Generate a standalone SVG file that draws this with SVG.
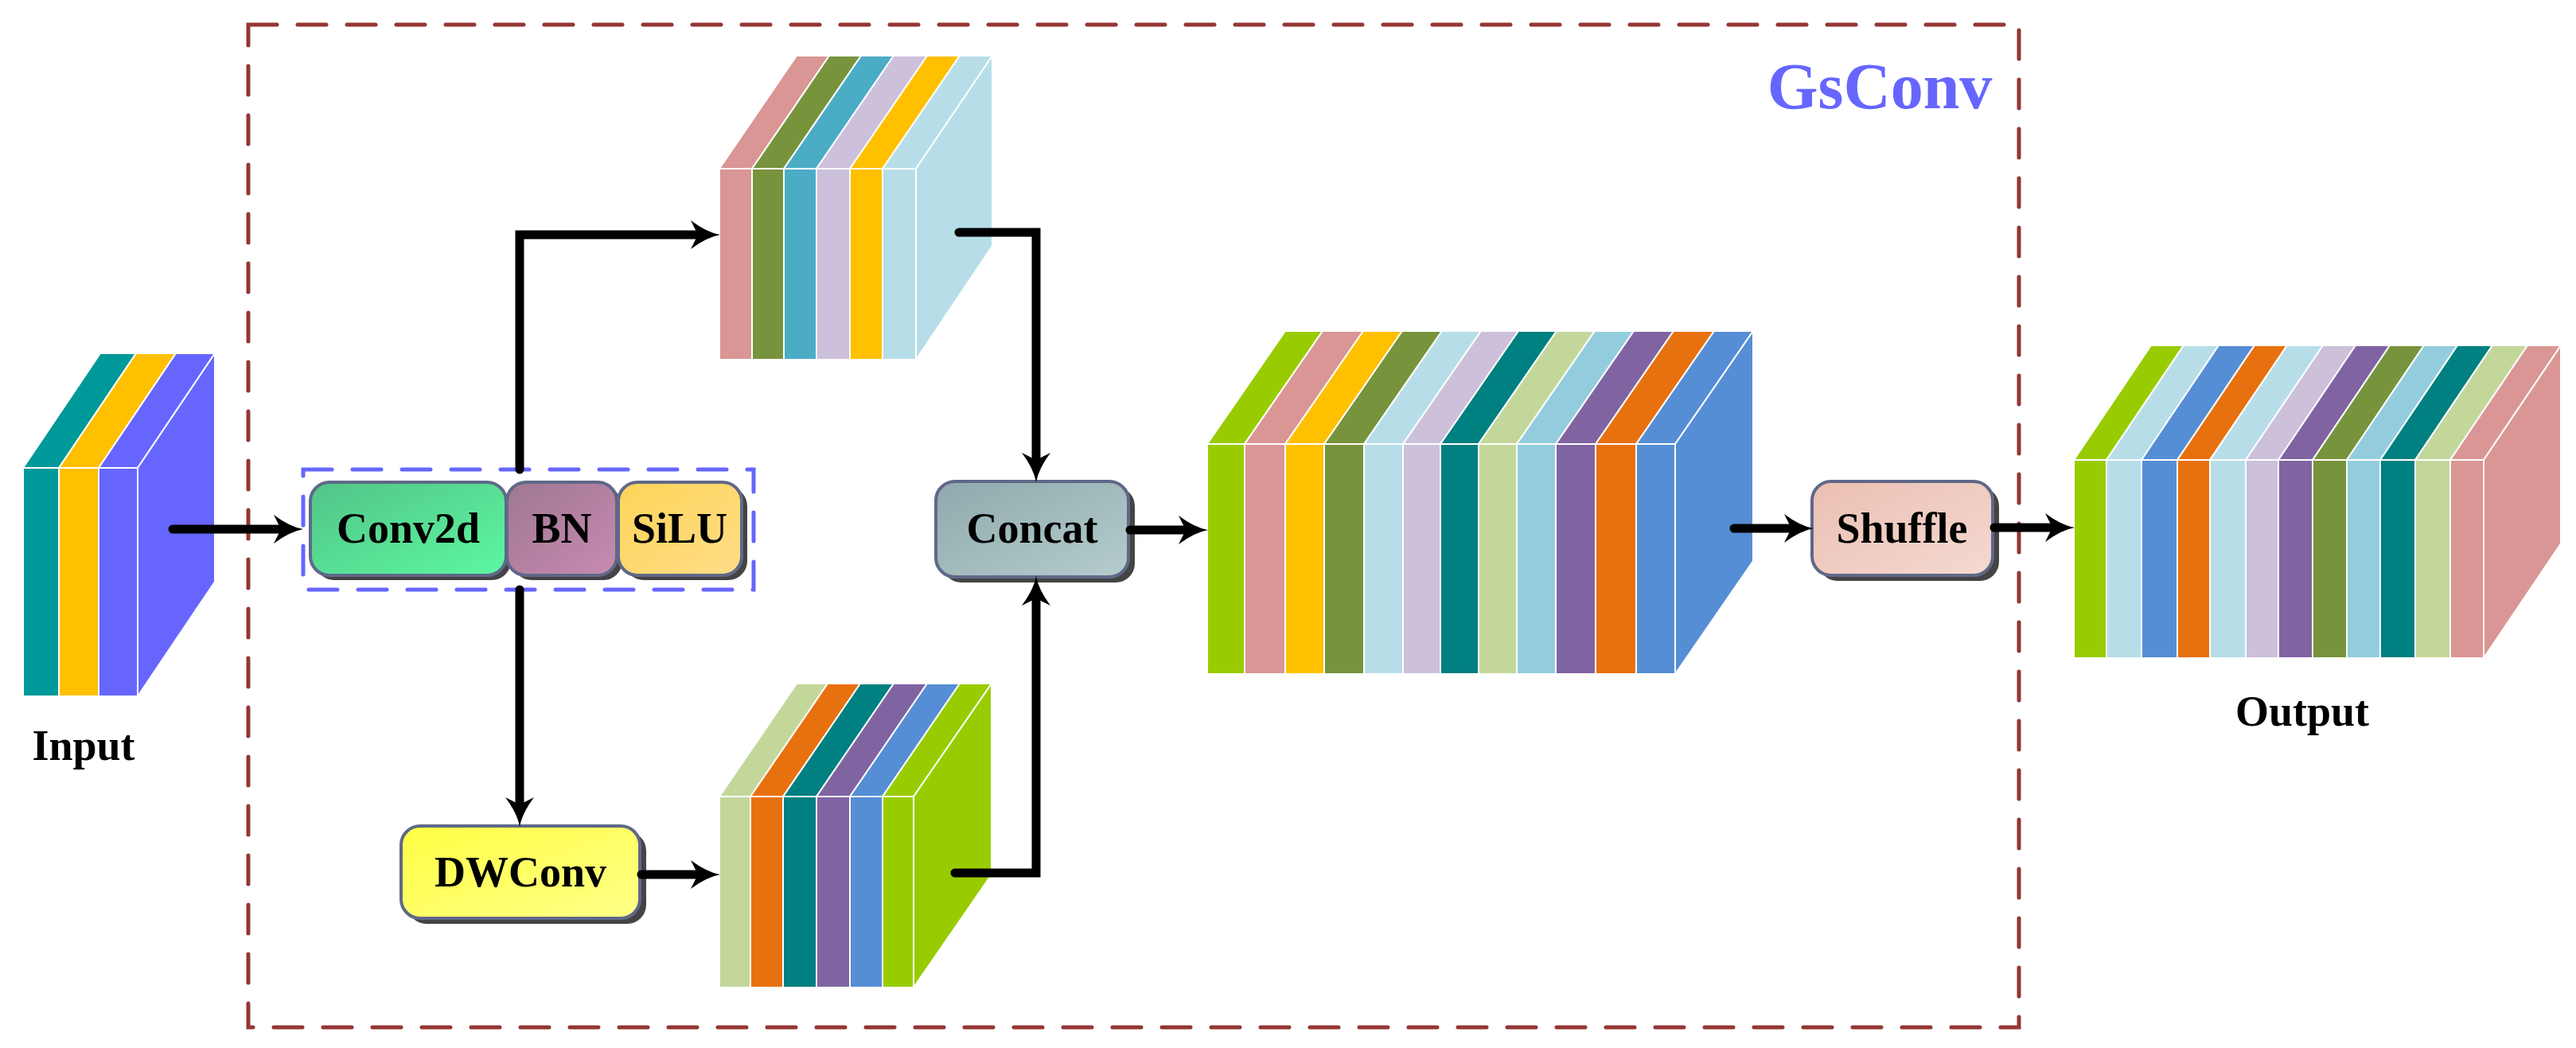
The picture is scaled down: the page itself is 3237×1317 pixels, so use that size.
<svg xmlns="http://www.w3.org/2000/svg" width="3237" height="1317" viewBox="0 0 3237 1317">
<style>
.s{stroke:#fff;stroke-width:2;stroke-linejoin:miter}
.node{stroke:#5F6888;stroke-width:4}
.shadow{fill:#444}
.lbl{font-family:"Liberation Serif","Times New Roman",serif;font-weight:bold;font-size:54px;fill:#000;text-anchor:middle}
.conn{fill:none;stroke:#000;stroke-width:11;stroke-linecap:round;stroke-linejoin:miter;marker-end:url(#ah)}
</style>
<defs>
<marker id="ah" viewBox="0 0 40 40" refX="18" refY="20" markerWidth="40" markerHeight="40" markerUnits="userSpaceOnUse" orient="auto">
<path d="M39,20 Q22,17 2,2 L11,20 L2,38 Q22,23 39,20 Z" fill="#000"/>
</marker>
<linearGradient id="gConv" x1="0" y1="0" x2="1" y2="1"><stop offset="0" stop-color="#52C487"/><stop offset="1" stop-color="#5CF8A1"/></linearGradient>
<linearGradient id="gBN" x1="0" y1="0" x2="1" y2="1"><stop offset="0" stop-color="#9E7890"/><stop offset="1" stop-color="#C88AB2"/></linearGradient>
<linearGradient id="gSiLU" x1="0" y1="0" x2="1" y2="1"><stop offset="0" stop-color="#FDD458"/><stop offset="1" stop-color="#FFDD88"/></linearGradient>
<linearGradient id="gDW" x1="0" y1="0" x2="1" y2="1"><stop offset="0" stop-color="#FFFF44"/><stop offset="1" stop-color="#FFFF88"/></linearGradient>
<linearGradient id="gCat" x1="0" y1="0" x2="1" y2="1"><stop offset="0" stop-color="#8FA9AC"/><stop offset="1" stop-color="#B4CCCD"/></linearGradient>
<linearGradient id="gSh" x1="0" y1="0" x2="1" y2="1"><stop offset="0" stop-color="#EBBFB2"/><stop offset="1" stop-color="#F5D9D1"/></linearGradient>
</defs>
<rect width="3237" height="1317" fill="#fff"/>

<g id="gsconv-frame">
<rect x="312" y="31" width="2225" height="1260" fill="none" stroke="#943634" stroke-width="5" stroke-dasharray="36 26" stroke-linecap="round"/>
<text x="2362" y="136" font-family="Liberation Serif, Times New Roman, serif" font-weight="bold" font-size="82" fill="#6666FF" text-anchor="middle">GsConv</text>
</g>

<g id="input">
<polygon class="s" fill="#009999" points="29,588 74,588 171,444 126,444"/>
<polygon class="s" fill="#FFC000" points="74,588 124,588 221,444 171,444"/>
<polygon class="s" fill="#6666FF" points="124,588 173,588 270,444 221,444"/>
<polygon class="s" fill="#6666FF" points="173,588 270,444 270,731 173,875"/>
<rect class="s" fill="#009999" x="29" y="588" width="45" height="287"/>
<rect class="s" fill="#FFC000" x="74" y="588" width="50" height="287"/>
<rect class="s" fill="#6666FF" x="124" y="588" width="49" height="287"/>
<text class="lbl" x="105" y="955">Input</text>
</g>

<g id="cbs">
<rect x="381" y="590" width="566" height="151" fill="none" stroke="#6666FF" stroke-width="5" stroke-dasharray="36 26" stroke-linecap="round"/>
<rect class="shadow" x="396" y="612" width="246" height="117" rx="24"/>
<rect class="shadow" x="644" y="612" width="138" height="117" rx="24"/>
<rect class="shadow" x="785" y="612" width="154" height="117" rx="24"/>
<g id="conv2d"><rect class="node" x="390" y="606" width="246" height="117" rx="24" fill="url(#gConv)"/><text class="lbl" x="513" y="682">Conv2d</text></g>
<g id="bn"><rect class="node" x="637" y="606" width="138" height="117" rx="24" fill="url(#gBN)"/><text class="lbl" x="706" y="682">BN</text></g>
<g id="silu"><rect class="node" x="777" y="606" width="155" height="117" rx="24" fill="url(#gSiLU)"/><text class="lbl" x="854" y="682">SiLU</text></g>
</g>

<g id="dwconv">
<rect class="shadow" x="512" y="1045" width="300" height="116" rx="24"/>
<rect class="node" x="504" y="1038" width="300" height="116" rx="24" fill="url(#gDW)"/>
<text class="lbl" x="654" y="1114">DWConv</text>
</g>

<g id="concat">
<rect class="shadow" x="1184" y="612" width="242" height="120" rx="24"/>
<rect class="node" x="1176" y="605" width="242" height="120" rx="24" fill="url(#gCat)"/>
<text class="lbl" x="1297" y="682">Concat</text>
</g>

<g id="shuffle">
<rect class="shadow" x="2285" y="612" width="227" height="118" rx="24"/>
<rect class="node" x="2277" y="605" width="227" height="118" rx="24" fill="url(#gSh)"/>
<text class="lbl" x="2390" y="682">Shuffle</text>
</g>

<g id="cube-top">
<polygon class="s" fill="#D99694" points="904,212 945,212 1042,70 1001,70"/>
<polygon class="s" fill="#77933C" points="945,212 985,212 1082,70 1042,70"/>
<polygon class="s" fill="#4BACC6" points="985,212 1026,212 1123,70 1082,70"/>
<polygon class="s" fill="#CCC0DA" points="1026,212 1068,212 1165,70 1123,70"/>
<polygon class="s" fill="#FFC000" points="1068,212 1109,212 1206,70 1165,70"/>
<polygon class="s" fill="#B7DEE8" points="1109,212 1151,212 1247,70 1206,70"/>
<polygon class="s" fill="#B7DEE8" points="1151,212 1247,70 1247,309 1151,452"/>
<rect class="s" fill="#D99694" x="904" y="212" width="41" height="240"/>
<rect class="s" fill="#77933C" x="945" y="212" width="40" height="240"/>
<rect class="s" fill="#4BACC6" x="985" y="212" width="41" height="240"/>
<rect class="s" fill="#CCC0DA" x="1026" y="212" width="42" height="240"/>
<rect class="s" fill="#FFC000" x="1068" y="212" width="41" height="240"/>
<rect class="s" fill="#B7DEE8" x="1109" y="212" width="42" height="240"/>
</g>

<g id="cube-bottom">
<polygon class="s" fill="#C4D79B" points="904,1001 943,1001 1040,859 1001,859"/>
<polygon class="s" fill="#E8710F" points="943,1001 984,1001 1081,859 1040,859"/>
<polygon class="s" fill="#008080" points="984,1001 1026,1001 1123,859 1081,859"/>
<polygon class="s" fill="#8064A2" points="1026,1001 1068,1001 1165,859 1123,859"/>
<polygon class="s" fill="#558ED5" points="1068,1001 1109,1001 1206,859 1165,859"/>
<polygon class="s" fill="#99CC00" points="1109,1001 1148,1001 1246,859 1206,859"/>
<polygon class="s" fill="#99CC00" points="1148,1001 1246,859 1246,1099 1148,1241"/>
<rect class="s" fill="#C4D79B" x="904" y="1001" width="39" height="240"/>
<rect class="s" fill="#E8710F" x="943" y="1001" width="41" height="240"/>
<rect class="s" fill="#008080" x="984" y="1001" width="42" height="240"/>
<rect class="s" fill="#8064A2" x="1026" y="1001" width="42" height="240"/>
<rect class="s" fill="#558ED5" x="1068" y="1001" width="41" height="240"/>
<rect class="s" fill="#99CC00" x="1109" y="1001" width="39" height="240"/>
</g>

<g id="cube-concat">
<polygon class="s" fill="#99CC00" points="1517,558 1564,558 1662,416 1615,416"/>
<polygon class="s" fill="#D99694" points="1564,558 1615,558 1713,416 1662,416"/>
<polygon class="s" fill="#FFC000" points="1615,558 1664,558 1762,416 1713,416"/>
<polygon class="s" fill="#77933C" points="1664,558 1714,558 1812,416 1762,416"/>
<polygon class="s" fill="#B7DEE8" points="1714,558 1763,558 1861,416 1812,416"/>
<polygon class="s" fill="#CCC0DA" points="1763,558 1810,558 1908,416 1861,416"/>
<polygon class="s" fill="#008080" points="1810,558 1858,558 1956,416 1908,416"/>
<polygon class="s" fill="#C4D79B" points="1858,558 1906,558 2004,416 1956,416"/>
<polygon class="s" fill="#93CDDD" points="1906,558 1955,558 2053,416 2004,416"/>
<polygon class="s" fill="#8064A2" points="1955,558 2005,558 2103,416 2053,416"/>
<polygon class="s" fill="#E8710F" points="2005,558 2056,558 2154,416 2103,416"/>
<polygon class="s" fill="#558ED5" points="2056,558 2105,558 2203,416 2154,416"/>
<polygon class="s" fill="#558ED5" points="2105,558 2203,416 2203,705 2105,847"/>
<rect class="s" fill="#99CC00" x="1517" y="558" width="47" height="289"/>
<rect class="s" fill="#D99694" x="1564" y="558" width="51" height="289"/>
<rect class="s" fill="#FFC000" x="1615" y="558" width="49" height="289"/>
<rect class="s" fill="#77933C" x="1664" y="558" width="50" height="289"/>
<rect class="s" fill="#B7DEE8" x="1714" y="558" width="49" height="289"/>
<rect class="s" fill="#CCC0DA" x="1763" y="558" width="47" height="289"/>
<rect class="s" fill="#008080" x="1810" y="558" width="48" height="289"/>
<rect class="s" fill="#C4D79B" x="1858" y="558" width="48" height="289"/>
<rect class="s" fill="#93CDDD" x="1906" y="558" width="49" height="289"/>
<rect class="s" fill="#8064A2" x="1955" y="558" width="50" height="289"/>
<rect class="s" fill="#E8710F" x="2005" y="558" width="51" height="289"/>
<rect class="s" fill="#558ED5" x="2056" y="558" width="49" height="289"/>
</g>

<g id="output">
<polygon class="s" fill="#99CC00" points="2606,578 2647,578 2744,434 2703,434"/>
<polygon class="s" fill="#B7DEE8" points="2647,578 2691,578 2788,434 2744,434"/>
<polygon class="s" fill="#558ED5" points="2691,578 2736,578 2833,434 2788,434"/>
<polygon class="s" fill="#E8710F" points="2736,578 2777,578 2874,434 2833,434"/>
<polygon class="s" fill="#B7DEE8" points="2777,578 2822,578 2919,434 2874,434"/>
<polygon class="s" fill="#CCC0DA" points="2822,578 2863,578 2960,434 2919,434"/>
<polygon class="s" fill="#8064A2" points="2863,578 2906,578 3003,434 2960,434"/>
<polygon class="s" fill="#77933C" points="2906,578 2949,578 3046,434 3003,434"/>
<polygon class="s" fill="#93CDDD" points="2949,578 2991,578 3088,434 3046,434"/>
<polygon class="s" fill="#008080" points="2991,578 3035,578 3132,434 3088,434"/>
<polygon class="s" fill="#C4D79B" points="3035,578 3079,578 3176,434 3132,434"/>
<polygon class="s" fill="#D99694" points="3079,578 3121,578 3218,434 3176,434"/>
<polygon class="s" fill="#D99694" points="3121,578 3218,434 3218,683 3121,827"/>
<rect class="s" fill="#99CC00" x="2606" y="578" width="41" height="249"/>
<rect class="s" fill="#B7DEE8" x="2647" y="578" width="44" height="249"/>
<rect class="s" fill="#558ED5" x="2691" y="578" width="45" height="249"/>
<rect class="s" fill="#E8710F" x="2736" y="578" width="41" height="249"/>
<rect class="s" fill="#B7DEE8" x="2777" y="578" width="45" height="249"/>
<rect class="s" fill="#CCC0DA" x="2822" y="578" width="41" height="249"/>
<rect class="s" fill="#8064A2" x="2863" y="578" width="43" height="249"/>
<rect class="s" fill="#77933C" x="2906" y="578" width="43" height="249"/>
<rect class="s" fill="#93CDDD" x="2949" y="578" width="42" height="249"/>
<rect class="s" fill="#008080" x="2991" y="578" width="44" height="249"/>
<rect class="s" fill="#C4D79B" x="3035" y="578" width="44" height="249"/>
<rect class="s" fill="#D99694" x="3079" y="578" width="42" height="249"/>
<text class="lbl" x="2893" y="912">Output</text>
</g>

<g id="connectors">
<path class="conn" d="M217,665 H360"/>
<path class="conn" d="M653,590 V295 H884"/>
<path class="conn" d="M653,741 V1018"/>
<path class="conn" d="M806,1099 H884"/>
<path class="conn" d="M1205,292 H1302 V585"/>
<path class="conn" d="M1200,1097 H1302 V745"/>
<path class="conn" d="M1420,666 H1497"/>
<path class="conn" d="M2179,664 H2258"/>
<path class="conn" d="M2506,663 H2586"/>
</g>
</svg>
